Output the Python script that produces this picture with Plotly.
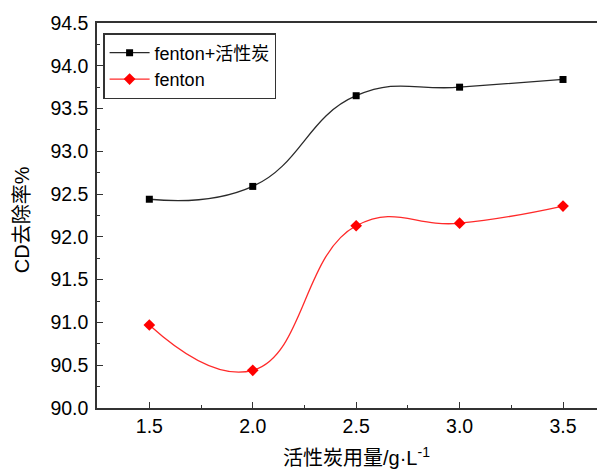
import plotly.graph_objects as go

dose = [1.5, 2.0, 2.5, 3.0, 3.5]
fenton_ac = [92.44, 92.59, 93.65, 93.75, 93.84]
fenton = [90.97, 90.44, 92.13, 92.16, 92.36]

x_title = "活性炭用量/g·L<sup>-1</sup>"
y_title = "CD去除率%"

font_family = "Liberation Sans, Arial, Noto Sans CJK SC"
axis_color = "#333333"

fig = go.Figure()
fig.add_trace(go.Scatter(
    x=dose, y=fenton_ac, name="fenton+活性炭", mode="lines+markers",
    line=dict(color="#2a2a2a", width=1.3, shape="spline", smoothing=1.3),
    marker=dict(symbol="square", size=7, color="black"),
))
fig.add_trace(go.Scatter(
    x=dose, y=fenton, name="fenton", mode="lines+markers",
    line=dict(color="#ff2a2a", width=1.3, shape="spline", smoothing=1.3),
    marker=dict(symbol="diamond", size=9, color="#ff0000"),
))

# page has an 8px body margin; figure sized to fit the 605x473 window
fig.update_layout(
    width=597, height=465,
    margin=dict(l=89, r=0, t=15, b=65, autoexpand=False),
    paper_bgcolor="white", plot_bgcolor="white",
    font=dict(family=font_family, size=18, color="black"),
    showlegend=True,
    legend=dict(
        x=0.012, y=0.974, xanchor="left", yanchor="top",
        bgcolor="white", bordercolor=axis_color, borderwidth=1.5,
        font=dict(size=18), tracegroupgap=0, itemwidth=40,
    ),
    annotations=[
        dict(text=y_title, xref="paper", yref="paper", x=-0.1476, y=0.488,
             xanchor="center", yanchor="middle", textangle=-90, showarrow=False,
             font=dict(size=20, color="black")),
        dict(text=x_title, xref="paper", yref="paper", x=0.51, y=-0.127,
             xanchor="center", yanchor="middle", showarrow=False,
             font=dict(size=20, color="black")),
    ],
)
fig.update_xaxes(
    range=[1.247, 3.703], tick0=1.5, dtick=0.5, tickformat=".1f",
    ticks="inside", ticklen=6, tickwidth=1.3, tickcolor=axis_color,
    minor=dict(ticks="inside", ticklen=3, dtick=0.25, tick0=1.5, tickcolor=axis_color, tickwidth=1),
    showline=True, linecolor=axis_color, linewidth=1.5, mirror=True,
    showgrid=False, zeroline=False, automargin=False,
    tickfont=dict(size=19.5),
)
fig.update_yaxes(
    range=[90.0, 94.5], tick0=90.0, dtick=0.5, tickformat=".1f",
    ticks="inside", ticklen=6, tickwidth=1.3, tickcolor=axis_color,
    minor=dict(ticks="inside", ticklen=3, dtick=0.25, tick0=90.0, tickcolor=axis_color, tickwidth=1),
    showline=True, linecolor=axis_color, linewidth=1.5, mirror=False,
    showgrid=False, zeroline=False, automargin=False,
    tickfont=dict(size=19.5), ticklabelstandoff=3,
)

fig.write_html("out.html")
